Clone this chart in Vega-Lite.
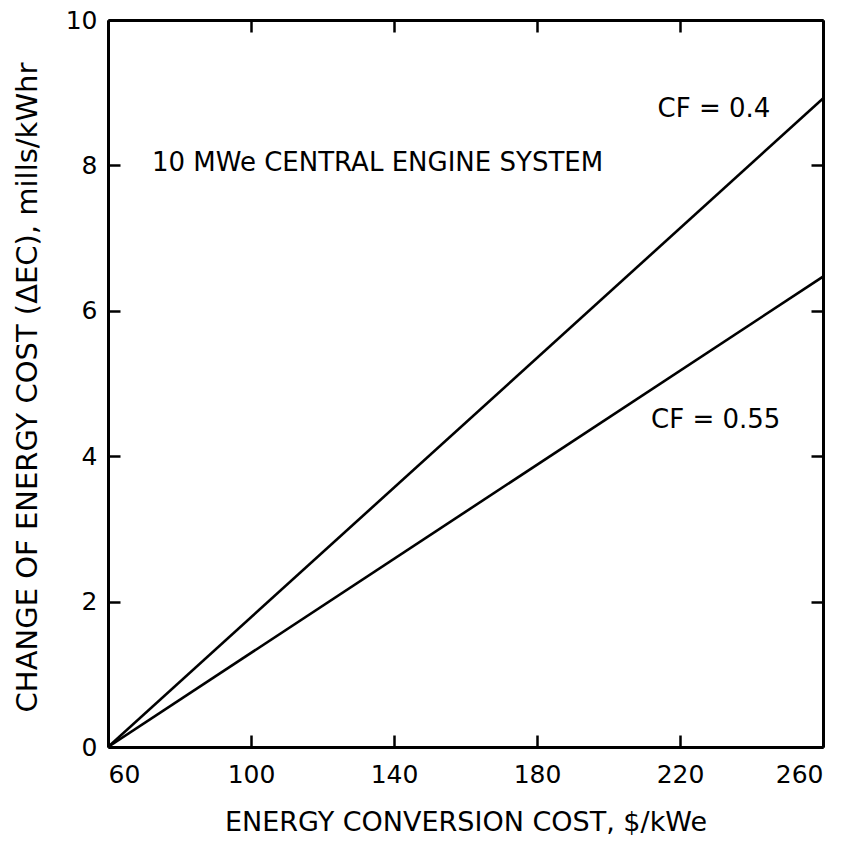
{
  "$schema": "https://vega.github.io/schema/vega-lite/v6.json",
  "width": 715,
  "height": 727,
  "autosize": {"type": "none"},
  "padding": {"left": 108, "top": 20, "right": 20, "bottom": 105},
  "background": "white",
  "config": {
    "view": {"stroke": null},
    "font": "DejaVu Sans",
    "axis": {
      "domainColor": "black",
      "domainWidth": 3,
      "tickColor": "black",
      "tickWidth": 2.5,
      "tickSize": -12,
      "labelColor": "black",
      "titleColor": "black",
      "labelFontSize": 25,
      "titleFontSize": 27,
      "titleFontWeight": "normal",
      "labelFont": "DejaVu Sans",
      "titleFont": "DejaVu Sans",
      "grid": false
    }
  },
  "datasets": {
    "lines": [
      {"cost": 60, "dec": 0, "series": "CF = 0.4"},
      {"cost": 260, "dec": 8.92, "series": "CF = 0.4"},
      {"cost": 60, "dec": 0, "series": "CF = 0.55"},
      {"cost": 260, "dec": 6.47, "series": "CF = 0.55"}
    ],
    "curveLabels": [
      {"cost": 229.5, "dec": 8.78, "text": "CF = 0.4"},
      {"cost": 230, "dec": 4.5, "text": "CF = 0.55"}
    ],
    "note": [
      {"cost": 72.3, "dec": 8.03, "text": "10 MWe CENTRAL ENGINE SYSTEM"}
    ]
  },
  "layer": [
    {
      "data": {"name": "lines"},
      "mark": {"type": "line", "color": "black", "strokeWidth": 2.6, "clip": true},
      "encoding": {
        "x": {
          "field": "cost", "type": "quantitative",
          "scale": {"domain": [60, 260], "nice": false},
          "axis": {"orient": "bottom", "values": [60, 100, 140, 180, 220, 260], "labelPadding": 27, "title": "ENERGY CONVERSION COST, $/kWe", "titleBaseline": "alphabetic", "titleY": 83}
        },
        "y": {
          "field": "dec", "type": "quantitative",
          "scale": {"domain": [0, 10], "nice": false},
          "axis": {"orient": "left", "values": [0, 2, 4, 6, 8, 10], "labelPadding": 23, "title": "CHANGE OF ENERGY COST (ΔEC), mills/kWhr", "titleFontSize": 29, "titleBaseline": "alphabetic", "titleX": -72, "titleY": 367}
        },
        "detail": {"field": "series"}
      }
    },
    {
      "data": {"name": "curveLabels"},
      "mark": {"type": "text", "fontSize": 26, "color": "black", "font": "DejaVu Sans", "baseline": "middle", "align": "center"},
      "encoding": {
        "x": {"field": "cost", "type": "quantitative", "axis": {"orient": "top", "values": [60, 100, 140, 180, 220, 260], "labels": false, "title": null}},
        "y": {"field": "dec", "type": "quantitative", "axis": {"orient": "right", "values": [0, 2, 4, 6, 8, 10], "labels": false, "title": null}},
        "text": {"field": "text"}
      }
    },
    {
      "data": {"name": "note"},
      "mark": {"type": "text", "fontSize": 26, "color": "black", "font": "DejaVu Sans", "baseline": "middle", "align": "left"},
      "encoding": {
        "x": {"field": "cost", "type": "quantitative", "axis": null},
        "y": {"field": "dec", "type": "quantitative", "axis": null},
        "text": {"field": "text"}
      }
    }
  ],
  "resolve": {"axis": {"x": "independent", "y": "independent"}}
}
